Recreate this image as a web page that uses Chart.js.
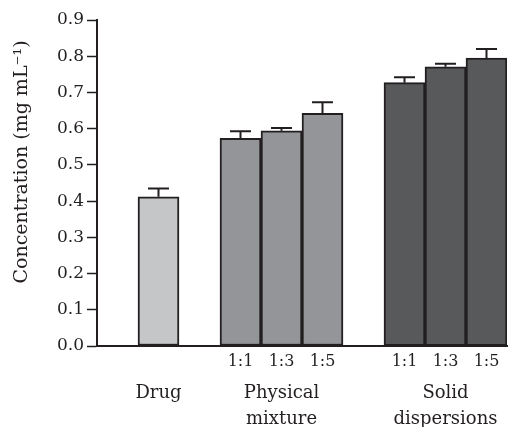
<!DOCTYPE html>
<html>
<head>
<meta charset="utf-8">
<script src="https://cdn.jsdelivr.net/npm/chart.js@4"></script>
<style>
    body { margin: 0; background: #fff; }
    #wrap { width: 517px; height: 427px; position: relative; }
</style>
</head>
<body>
<div id="wrap"><canvas id="myChart"></canvas></div>
<script>
// values
const drugValue = 0.412;
const drugError = 0.023;
const ratioLabels = ["1:1", "1:3", "1:5"];
const physicalValues = [0.573, 0.594, 0.642];
const physicalErrors = [0.020, 0.008, 0.031];
const solidValues = [0.727, 0.771, 0.795];
const solidErrors = [0.015, 0.008, 0.025];
const groupNames = ["Drug", ["Physical", "mixture"], ["Solid", "dispersions"]];
const yTicks = [0, 0.1, 0.2, 0.3, 0.4, 0.5, 0.6, 0.7, 0.8, 0.9];
const yTitle = "Concentration (mg mL\u207B\u00B9)";

const ink = "#231f20";
const drugColor = "#c5c6c8";
const physicalColor = "#939598";
const solidColor = "#58595b";

// one slot per bar plus empty gap slots
const slotLabels = ["", "", "", ...ratioLabels, "", ...ratioLabels];
const groupLabels = ["", groupNames[0], "", "", groupNames[1], "", "", "", groupNames[2], ""];
const slotValues = [null, drugValue, null, ...physicalValues, null, ...solidValues];
const slotErrors = [null, drugError, null, ...physicalErrors, null, ...solidErrors];
const slotColors = ["#fff", drugColor, "#fff",
    physicalColor, physicalColor, physicalColor, "#fff",
    solidColor, solidColor, solidColor];

const errorBars = {
    id: "errorBars",
    afterDatasetsDraw(chart) {
        const ctx = chart.ctx;
        const y = chart.scales.y;
        const meta = chart.getDatasetMeta(0);
        ctx.save();
        ctx.strokeStyle = ink;
        ctx.lineWidth = 2;
        meta.data.forEach((bar, i) => {
            if (slotValues[i] == null) return;
            const top = y.getPixelForValue(slotValues[i]);
            const cap = y.getPixelForValue(slotValues[i] + slotErrors[i]);
            ctx.beginPath();
            ctx.moveTo(bar.x, top);
            ctx.lineTo(bar.x, cap);
            ctx.moveTo(bar.x - 10.5, cap);
            ctx.lineTo(bar.x + 10.5, cap);
            ctx.stroke();
        });
        ctx.restore();
    }
};

const yTitlePlugin = {
    id: "yTitlePlugin",
    afterDraw(chart) {
        const ctx = chart.ctx;
        ctx.save();
        ctx.translate(22, 162);
        ctx.rotate(-Math.PI / 2);
        ctx.font = "19px 'DejaVu Serif'";
        ctx.fillStyle = ink;
        ctx.textAlign = "center";
        ctx.textBaseline = "middle";
        ctx.fillText(yTitle, 0, 0);
        ctx.restore();
    }
};

new Chart(document.getElementById("myChart"), {
    type: "bar",
    data: {
        labels: slotLabels,
        datasets: [{
            data: slotValues,
            backgroundColor: slotColors,
            borderColor: ink,
            borderWidth: 2,
            borderSkipped: false,
            barPercentage: 1,
            categoryPercentage: 1
        }]
    },
    options: {
        responsive: true,
        maintainAspectRatio: false,
        animation: false,
        layout: { padding: { left: 0, right: 10, top: 20, bottom: 0 } },
        plugins: {
            legend: { display: false },
            tooltip: { enabled: false }
        },
        scales: {
            x: {
                position: "bottom",
                grid: { display: false, drawTicks: false },
                border: { display: true, color: ink, width: 2 },
                ticks: {
                    color: ink,
                    padding: 6,
                    maxRotation: 0,
                    autoSkip: false,
                    font: { family: "'DejaVu Serif'", size: 16 }
                },
                afterFit: s => { s.height = 26; }
            },
            x2: {
                type: "category",
                position: "bottom",
                labels: groupLabels,
                grid: { display: false, drawTicks: false },
                border: { display: false },
                ticks: {
                    color: ink,
                    padding: 8,
                    maxRotation: 0,
                    autoSkip: false,
                    font: { family: "'DejaVu Serif'", size: 18, lineHeight: 26 / 18 }
                },
                afterFit: s => { s.height = 55; }
            },
            y: {
                min: 0,
                max: 0.9,
                afterBuildTicks: s => { s.ticks = yTicks.map(v => ({ value: v })); },
                grid: {
                    display: true,
                    drawOnChartArea: false,
                    drawTicks: true,
                    tickLength: 10,
                    tickColor: ink,
                    tickWidth: 1.5
                },
                border: { display: true, color: ink, width: 2 },
                ticks: {
                    color: ink,
                    padding: 3,
                    font: { family: "'DejaVu Serif'", size: 17 },
                    callback: v => Number(v).toFixed(1)
                },
                afterFit: s => { s.width = 97; }
            }
        }
    },
    plugins: [errorBars, yTitlePlugin]
});
</script>
</body>
</html>
